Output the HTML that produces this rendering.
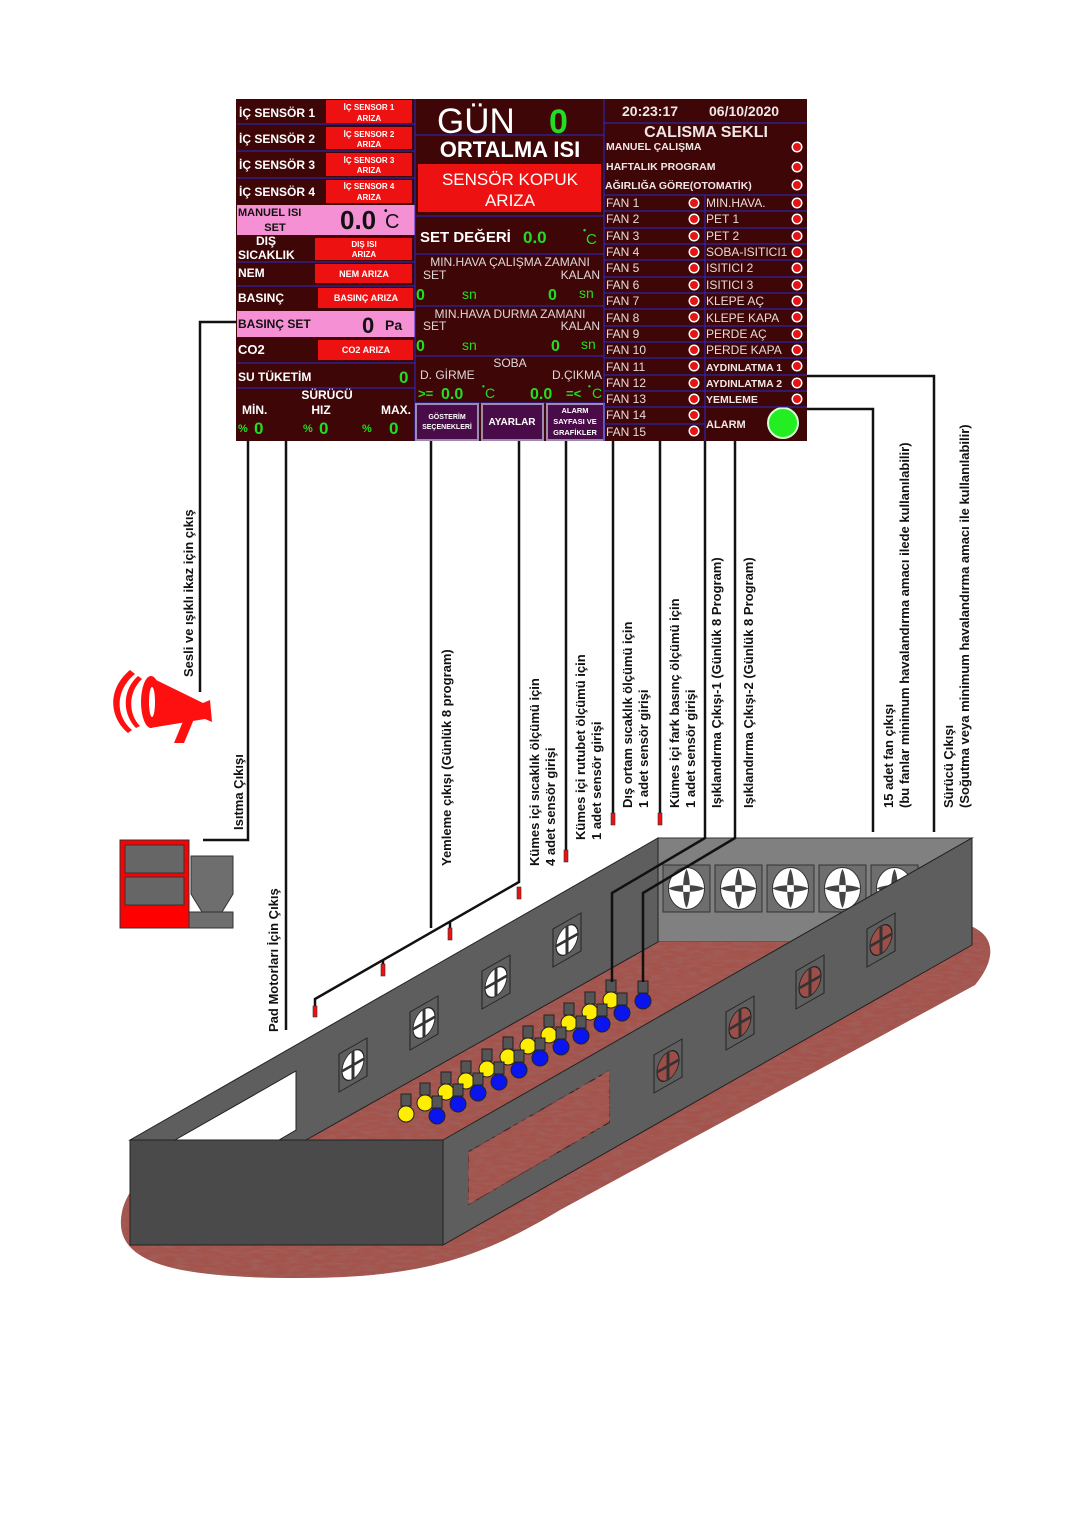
<!DOCTYPE html>
<html><head><meta charset="utf-8"><style>
html,body{margin:0;padding:0;background:#fff;}
svg{display:block;}
text{font-family:"Liberation Sans",Arial,sans-serif;}
.l{font-size:12px;font-weight:bold;fill:#fff;}
.rb{font-size:8px;font-weight:bold;fill:#fff;text-anchor:middle;}
.f{font-size:12px;fill:#e8dada;}
.g{fill:#22dd22;font-weight:bold;}
.w{fill:#e0d6d6;font-size:12px;}
.lab{font-size:13px;font-weight:bold;fill:#111;}
.ln{stroke:#111;stroke-width:2.5;fill:none;}
.sep{stroke:#2a2ad0;stroke-width:1;}
</style></head><body>
<svg width="1072" height="1514" viewBox="0 0 1072 1514" xmlns="http://www.w3.org/2000/svg">
<defs>
<filter id="tex" x="0" y="0" width="100%" height="100%">
<feTurbulence type="fractalNoise" baseFrequency="0.08 0.35" numOctaves="2" seed="3" result="n"/>
<feColorMatrix in="n" type="matrix" values="0 0 0 0 0.35  0 0 0 0 0.12  0 0 0 0 0.11  0 0 0 1.8 -0.6" result="c"/>
<feComposite in="c" in2="SourceGraphic" operator="in" result="d"/>
<feMerge><feMergeNode in="SourceGraphic"/><feMergeNode in="d"/></feMerge>
</filter>
<g id="ind"><circle r="5.5" fill="#fff"/><circle r="4" fill="#e51515"/></g>
<g id="bfan"><rect x="0" y="0" width="47" height="47" fill="#6e6e6e" stroke="#333"/><ellipse cx="23.5" cy="23.5" rx="18" ry="21" fill="#fff" stroke="#333"/><path d="M23.5 4 C19 12 19 35 23.5 43 C28 35 28 12 23.5 4Z M5.5 23.5 C13 19 34 19 41.5 23.5 C34 28 13 28 5.5 23.5Z" fill="#444"/></g>
<g id="wfanL"><g transform="skewY(-29.7)"><rect x="-14" y="-19" width="28" height="38" fill="#5e5e5e" stroke="#222"/><ellipse rx="11" ry="14" fill="#fff" stroke="#222"/><path d="M0 -14V14M-11 0H11" stroke="#333" stroke-width="3"/></g></g>
<g id="wfanR"><g transform="skewY(-29.7)"><rect x="-14" y="-19" width="28" height="38" fill="#5e5e5e" stroke="#222"/><ellipse rx="11" ry="14" fill="#9c4e48" stroke="#222"/><path d="M0 -14V14M-11 0H11" stroke="#333" stroke-width="3"/></g></g>
</defs>

<!-- ===== PANEL ===== -->
<rect x="236" y="99" width="571" height="342" fill="#3e0606"/>
<g>
<text class="l" x="239" y="117">İÇ SENSÖR 1</text>
<rect x="326" y="100" width="86" height="23" fill="#ee1111"/><text class="rb" x="369" y="110">İÇ SENSOR 1</text><text class="rb" x="369" y="121">ARIZA</text>
<line class="sep" x1="237" y1="124" x2="415" y2="124"/>
<text class="l" x="239" y="143">İÇ SENSÖR 2</text>
<rect x="326" y="127" width="86" height="22" fill="#ee1111"/><text class="rb" x="369" y="137">İÇ SENSOR 2</text><text class="rb" x="369" y="147">ARIZA</text>
<line class="sep" x1="237" y1="151" x2="415" y2="151"/>
<text class="l" x="239" y="169">İÇ SENSÖR 3</text>
<rect x="326" y="153" width="86" height="23" fill="#ee1111"/><text class="rb" x="369" y="163">İÇ SENSOR 3</text><text class="rb" x="369" y="173">ARIZA</text>
<line class="sep" x1="237" y1="178" x2="415" y2="178"/>
<text class="l" x="239" y="196">İÇ SENSÖR 4</text>
<rect x="326" y="180" width="86" height="23" fill="#ee1111"/><text class="rb" x="369" y="189">İÇ SENSOR 4</text><text class="rb" x="369" y="200">ARIZA</text>
<rect x="237" y="205" width="178" height="30" fill="#f590d4"/>
<text x="238" y="216" style="font-size:11px;font-weight:bold;fill:#111">MANUEL ISI</text>
<text x="275" y="231" style="font-size:11px;font-weight:bold;fill:#111;text-anchor:middle">SET</text>
<text x="340" y="229" style="font-size:26px;font-weight:bold;fill:#111">0.0</text>
<text x="385" y="228" style="font-size:20px;fill:#111">C</text><text x="384" y="214" style="font-size:10px;font-weight:bold;fill:#111">•</text>
<text class="l" x="266" y="245" text-anchor="middle">DIŞ</text>
<text class="l" x="238" y="259">SICAKLIK</text>
<rect x="315" y="238" width="97" height="22" fill="#ee1111"/><text class="rb" x="364" y="247">DIŞ ISI</text><text class="rb" x="364" y="257">ARIZA</text>
<line class="sep" x1="237" y1="262" x2="415" y2="262"/>
<text class="l" x="238" y="277">NEM</text>
<rect x="315" y="264" width="97" height="19" fill="#ee1111"/><text class="rb" x="364" y="277" style="font-size:9px">NEM ARIZA</text>
<line class="sep" x1="237" y1="286" x2="415" y2="286"/>
<text class="l" x="238" y="302">BASINÇ</text>
<rect x="318" y="288" width="95" height="20" fill="#ee1111"/><text class="rb" x="366" y="301" style="font-size:9px">BASINÇ ARIZA</text>
<rect x="237" y="311" width="178" height="26" fill="#f590d4"/>
<text x="238" y="328" style="font-size:12px;font-weight:bold;fill:#111">BASINÇ SET</text>
<text x="362" y="333" style="font-size:22px;font-weight:bold;fill:#111">0</text>
<text x="385" y="330" style="font-size:14px;font-weight:bold;fill:#111">Pa</text>
<text class="l" x="238" y="354" style="font-size:13px">CO2</text>
<rect x="318" y="340" width="95" height="20" fill="#ee1111"/><text class="rb" x="366" y="353" style="font-size:9px">CO2 ARIZA</text>
<line class="sep" x1="237" y1="363" x2="415" y2="363"/>
<text class="l" x="238" y="381">SU TÜKETİM</text>
<text class="g" x="399" y="383" style="font-size:17px">0</text>
<line class="sep" x1="237" y1="388" x2="415" y2="388"/>
<text class="l" x="327" y="399" text-anchor="middle">SÜRÜCÜ</text>
<text class="l" x="242" y="414">MİN.</text>
<text class="l" x="321" y="414" text-anchor="middle">HIZ</text>
<text class="l" x="381" y="414">MAX.</text>
<text class="g" x="238" y="432" style="font-size:11px">%</text><text class="g" x="254" y="434" style="font-size:17px">0</text>
<text class="g" x="303" y="432" style="font-size:11px">%</text><text class="g" x="319" y="434" style="font-size:17px">0</text>
<text class="g" x="362" y="432" style="font-size:11px">%</text><text class="g" x="389" y="434" style="font-size:17px">0</text>
<line class="sep" x1="415" y1="99" x2="415" y2="441"/>
</g>
<g>
<text x="437" y="133" style="font-size:35px;fill:#fff">GÜN</text>
<text class="g" x="549" y="133" style="font-size:34px">0</text>
<line class="sep" x1="415" y1="135" x2="604" y2="135"/>
<text x="510" y="157" style="font-size:22px;font-weight:bold;fill:#fff;text-anchor:middle">ORTALMA ISI</text>
<rect x="418" y="164" width="183" height="48" fill="#ee1111"/>
<text x="510" y="185" style="font-size:17px;fill:#fff;text-anchor:middle">SENSÖR KOPUK</text>
<text x="510" y="206" style="font-size:17px;fill:#fff;text-anchor:middle">ARIZA</text>
<line class="sep" x1="415" y1="216" x2="604" y2="216"/>
<text x="420" y="242" style="font-size:15px;font-weight:bold;fill:#fff">SET DEĞERİ</text>
<text class="g" x="523" y="243" style="font-size:17px">0.0</text>
<text class="g" x="586" y="244" style="font-size:15px;font-weight:normal">C</text><text class="g" x="583" y="233" style="font-size:9px">•</text>
<line class="sep" x1="415" y1="254" x2="604" y2="254"/>
<text class="w" x="510" y="266" text-anchor="middle">MIN.HAVA ÇALIŞMA ZAMANI</text>
<text class="w" x="423" y="279">SET</text><text class="w" x="600" y="279" text-anchor="end">KALAN</text>
<text class="g" x="416" y="300" style="font-size:16px">0</text><text x="462" y="299" style="font-size:14px;fill:#22dd22">sn</text>
<text class="g" x="548" y="300" style="font-size:16px">0</text><text x="579" y="298" style="font-size:14px;fill:#22dd22">sn</text>
<line class="sep" x1="415" y1="306" x2="604" y2="306"/>
<text class="w" x="510" y="318" text-anchor="middle">MIN.HAVA DURMA ZAMANI</text>
<text class="w" x="423" y="330">SET</text><text class="w" x="600" y="330" text-anchor="end">KALAN</text>
<text class="g" x="416" y="351" style="font-size:16px">0</text><text x="462" y="350" style="font-size:14px;fill:#22dd22">sn</text>
<text class="g" x="551" y="351" style="font-size:16px">0</text><text x="581" y="349" style="font-size:14px;fill:#22dd22">sn</text>
<line class="sep" x1="415" y1="356" x2="604" y2="356"/>
<text class="w" x="510" y="367" text-anchor="middle">SOBA</text>
<text class="w" x="420" y="379">D. GİRME</text><text class="w" x="602" y="379" text-anchor="end">D.ÇIKMA</text>
<text class="g" x="418" y="398" style="font-size:13px">&gt;=</text>
<text class="g" x="441" y="399" style="font-size:16px">0.0</text>
<text x="485" y="398" style="font-size:14px;fill:#22dd22">C</text><text class="g" x="482" y="389" style="font-size:8px">•</text>
<text class="g" x="530" y="399" style="font-size:16px">0.0</text>
<text class="g" x="566" y="398" style="font-size:13px">=&lt;</text>
<text x="592" y="398" style="font-size:14px;fill:#22dd22">C</text><text class="g" x="588" y="389" style="font-size:8px">•</text>
<line class="sep" x1="415" y1="403" x2="604" y2="403"/>
<rect x="416" y="404" width="62" height="36" fill="#4a0c48" stroke="#9c8ab0" stroke-width="2"/>
<text class="rb" x="447" y="419" style="font-size:7px">GÖSTERİM</text><text class="rb" x="447" y="429" style="font-size:7px">SEÇENEKLERİ</text>
<rect x="482" y="404" width="61" height="36" fill="#4a0c48" stroke="#9c8ab0" stroke-width="2"/>
<text class="rb" x="512" y="425" style="font-size:10px">AYARLAR</text>
<rect x="547" y="404" width="57" height="36" fill="#4a0c48" stroke="#9c8ab0" stroke-width="2"/>
<text class="rb" x="575" y="413" style="font-size:7.5px">ALARM</text><text class="rb" x="575" y="424" style="font-size:7.5px">SAYFASI VE</text><text class="rb" x="575" y="435" style="font-size:7.5px">GRAFİKLER</text>
<line class="sep" x1="604" y1="99" x2="604" y2="441"/>
</g>
<g>
<text x="622" y="116" style="font-size:14px;font-weight:bold;fill:#f0e6e6">20:23:17</text>
<text x="709" y="116" style="font-size:14px;font-weight:bold;fill:#f0e6e6">06/10/2020</text>
<line class="sep" x1="604" y1="123" x2="807" y2="123"/>
<text x="706" y="137" style="font-size:16px;font-weight:bold;fill:#f0e6e6;text-anchor:middle">CALISMA SEKLI</text>
<text x="606" y="150" style="font-size:10.5px;font-weight:bold;fill:#f0e6e6">MANUEL ÇALIŞMA</text><use href="#ind" x="797" y="147"/>
<text x="606" y="170" style="font-size:10.5px;font-weight:bold;fill:#f0e6e6">HAFTALIK PROGRAM</text><use href="#ind" x="797" y="167"/>
<text x="605" y="189" style="font-size:10.5px;font-weight:bold;fill:#f0e6e6">AĞIRLIĞA GÖRE(OTOMATİK)</text><use href="#ind" x="797" y="185"/>
<line class="sep" x1="604" y1="195" x2="807" y2="195"/>
<line class="sep" x1="705" y1="195" x2="705" y2="441"/>
<g class="f">
<text x="606" y="207">FAN 1</text><text x="606" y="223">FAN 2</text><text x="606" y="240">FAN 3</text><text x="606" y="256">FAN 4</text><text x="606" y="272">FAN 5</text><text x="606" y="289">FAN 6</text><text x="606" y="305">FAN 7</text><text x="606" y="322">FAN 8</text><text x="606" y="338">FAN 9</text><text x="606" y="354">FAN 10</text><text x="606" y="371">FAN 11</text><text x="606" y="387">FAN 12</text><text x="606" y="403">FAN 13</text><text x="606" y="419">FAN 14</text><text x="606" y="436">FAN 15</text>
<text x="706" y="207">MIN.HAVA.</text><text x="706" y="223">PET 1</text><text x="706" y="240">PET 2</text><text x="706" y="256">SOBA-ISITICI1</text><text x="706" y="272">ISITICI 2</text><text x="706" y="289">ISITICI 3</text><text x="706" y="305">KLEPE AÇ</text><text x="706" y="322">KLEPE KAPA</text><text x="706" y="338">PERDE AÇ</text><text x="706" y="354">PERDE KAPA</text>
</g>
<text x="706" y="371" style="font-size:10.5px;font-weight:bold;fill:#f0e6e6">AYDINLATMA 1</text>
<text x="706" y="387" style="font-size:10.5px;font-weight:bold;fill:#f0e6e6">AYDINLATMA 2</text>
<text x="706" y="403" style="font-size:10.5px;font-weight:bold;fill:#f0e6e6">YEMLEME</text>
<text x="706" y="428" style="font-size:11px;font-weight:bold;fill:#f0e6e6">ALARM</text>
<circle cx="783" cy="423" r="15" fill="#22ee22" stroke="#d8ffd8" stroke-width="2"/>
<g stroke="#2a2ad0" stroke-width="1">
<line x1="604" y1="211" x2="807" y2="211"/><line x1="604" y1="228" x2="807" y2="228"/><line x1="604" y1="244" x2="807" y2="244"/><line x1="604" y1="260" x2="807" y2="260"/><line x1="604" y1="277" x2="807" y2="277"/><line x1="604" y1="293" x2="807" y2="293"/><line x1="604" y1="309" x2="807" y2="309"/><line x1="604" y1="326" x2="807" y2="326"/><line x1="604" y1="342" x2="807" y2="342"/><line x1="604" y1="358" x2="807" y2="358"/><line x1="604" y1="375" x2="807" y2="375"/><line x1="604" y1="391" x2="807" y2="391"/><line x1="604" y1="407" x2="807" y2="407"/><line x1="604" y1="424" x2="705" y2="424"/>
</g>
<use href="#ind" x="694" y="203"/><use href="#ind" x="694" y="219"/><use href="#ind" x="694" y="236"/><use href="#ind" x="694" y="252"/><use href="#ind" x="694" y="268"/><use href="#ind" x="694" y="285"/><use href="#ind" x="694" y="301"/><use href="#ind" x="694" y="317"/><use href="#ind" x="694" y="334"/><use href="#ind" x="694" y="350"/><use href="#ind" x="694" y="366"/><use href="#ind" x="694" y="383"/><use href="#ind" x="694" y="399"/><use href="#ind" x="694" y="415"/><use href="#ind" x="694" y="431"/>
<use href="#ind" x="797" y="203"/><use href="#ind" x="797" y="219"/><use href="#ind" x="797" y="236"/><use href="#ind" x="797" y="252"/><use href="#ind" x="797" y="268"/><use href="#ind" x="797" y="285"/><use href="#ind" x="797" y="301"/><use href="#ind" x="797" y="317"/><use href="#ind" x="797" y="334"/><use href="#ind" x="797" y="350"/><use href="#ind" x="797" y="366"/><use href="#ind" x="797" y="383"/><use href="#ind" x="797" y="399"/>
</g>

<!-- ===== HOUSE ===== -->
<path d="M300,1098 L955,922 C995,928 1000,955 975,985 L560,1210 C480,1258 420,1278 300,1278 C170,1278 112,1262 122,1212 C130,1170 200,1128 300,1098 Z" fill="#a4524c" filter="url(#tex)"/>
<polygon points="658,838 972,838 790,942 658,942" fill="#808080" stroke="#333"/>
<use href="#bfan" x="663" y="865"/><use href="#bfan" x="715" y="865"/><use href="#bfan" x="767" y="865"/><use href="#bfan" x="819" y="865"/><use href="#bfan" x="871" y="865"/>
<polygon points="306,1140 658,942 790,942 443,1140" fill="#a4524c" filter="url(#tex)"/>
<polygon points="130,1140 658,838 658,942 306,1140" fill="#5e5e5e" stroke="#222"/>
<polygon points="175,1140 296,1071 296,1130 279,1140" fill="#fff" stroke="#222"/>
<use href="#wfanL" x="353" y="1065"/><use href="#wfanL" x="424" y="1023"/><use href="#wfanL" x="496" y="982"/><use href="#wfanL" x="567" y="940"/>
<g stroke="#222" stroke-width="1">
<g fill="#555">
<rect x="401" y="1094" width="10" height="12"/><rect x="420" y="1083" width="10" height="12"/><rect x="441" y="1072" width="10" height="12"/><rect x="461" y="1061" width="10" height="12"/><rect x="482" y="1049" width="10" height="12"/><rect x="503" y="1037" width="10" height="12"/><rect x="523" y="1026" width="10" height="12"/><rect x="544" y="1015" width="10" height="12"/><rect x="564" y="1003" width="10" height="12"/><rect x="585" y="992" width="10" height="12"/><rect x="606" y="980" width="10" height="12"/>
</g>
<g fill="#ffee00">
<circle cx="406" cy="1114" r="8"/><circle cx="425" cy="1103" r="8"/><circle cx="446" cy="1092" r="8"/><circle cx="466" cy="1081" r="8"/><circle cx="487" cy="1069" r="8"/><circle cx="508" cy="1057" r="8"/><circle cx="528" cy="1046" r="8"/><circle cx="549" cy="1035" r="8"/><circle cx="569" cy="1023" r="8"/><circle cx="590" cy="1012" r="8"/><circle cx="611" cy="1000" r="8"/>
</g>
<g fill="#555">
<rect x="432" y="1096" width="10" height="12"/><rect x="453" y="1084" width="10" height="12"/><rect x="473" y="1073" width="10" height="12"/><rect x="494" y="1062" width="10" height="12"/><rect x="514" y="1050" width="10" height="12"/><rect x="535" y="1038" width="10" height="12"/><rect x="556" y="1027" width="10" height="12"/><rect x="576" y="1016" width="10" height="12"/><rect x="597" y="1004" width="10" height="12"/><rect x="617" y="993" width="10" height="12"/><rect x="638" y="981" width="10" height="12"/>
</g>
<g fill="#0a14ee">
<circle cx="437" cy="1116" r="8"/><circle cx="458" cy="1104" r="8"/><circle cx="478" cy="1093" r="8"/><circle cx="499" cy="1082" r="8"/><circle cx="519" cy="1070" r="8"/><circle cx="540" cy="1058" r="8"/><circle cx="561" cy="1047" r="8"/><circle cx="581" cy="1036" r="8"/><circle cx="602" cy="1024" r="8"/><circle cx="622" cy="1013" r="8"/><circle cx="643" cy="1001" r="8"/>
</g>
</g>
<polygon points="443,1140 972,838 972,945 443,1245" fill="#5e5e5e" stroke="#222"/>
<polygon points="468,1152 610,1070 610,1122 468,1205" fill="#a4524c" stroke="#222" filter="url(#tex)"/>
<use href="#wfanR" x="668" y="1066"/><use href="#wfanR" x="740" y="1023"/><use href="#wfanR" x="810" y="982"/><use href="#wfanR" x="881" y="940"/>
<rect x="130" y="1140" width="313" height="105" fill="#4a4a4a" stroke="#222"/>

<rect x="120" y="840" width="69" height="88" fill="#ff0000" stroke="#333"/>
<rect x="125" y="845" width="59" height="28" fill="#666" stroke="#333"/>
<rect x="125" y="877" width="59" height="28" fill="#666" stroke="#333"/>
<polygon points="191,856 233,856 233,894 222,912 202,912 191,894" fill="#6e6e6e" stroke="#333"/>
<rect x="189" y="912" width="44" height="16" fill="#6e6e6e" stroke="#333"/>

<g fill="#ff1010">
<path d="M150,677 L203,703 L210,700 L212,722 L205,719 L150,728 Z"/>
<ellipse cx="151" cy="702" rx="10" ry="26"/>
<path d="M184,719 L194,719 L184,743 L174,743 Z"/>
<path d="M135,674 C115,690 115,716 132,730 L128,733 C108,716 108,688 130,670Z"/>
<path d="M142,679 C128,692 128,714 140,726 L136,728 C122,714 122,690 138,676Z"/>
</g>
<ellipse cx="152" cy="702" rx="3" ry="15" fill="#fff"/>

<g class="ln">
<polyline points="237,322 200,322 200,692"/>
<polyline points="248,441 248,840 203,840"/>
<line x1="286" y1="441" x2="286" y2="1030"/>
<line x1="431" y1="441" x2="431" y2="928"/>
<polyline points="519,441 519,882 315,999 315,1010"/>
<line x1="450" y1="921" x2="450" y2="930"/>
<line x1="383" y1="960" x2="383" y2="966"/>
<line x1="566" y1="441" x2="566" y2="852"/>
<line x1="613" y1="441" x2="613" y2="815"/>
<line x1="660" y1="441" x2="660" y2="815"/>
<polyline points="705,441 705,838 612,893 612,982"/>
<polyline points="735,441 735,838 643,893 643,982"/>
<polyline points="807,409 873,409 873,832"/>
<polyline points="807,376 934,376 934,832"/>
</g>
<g fill="#ee1111" stroke="#333" stroke-width="0.6">
<rect x="313" y="1006" width="4" height="11"/><rect x="381" y="964" width="4" height="12"/><rect x="448" y="928" width="4" height="12"/><rect x="517" y="887" width="4" height="12"/>
<rect x="564" y="850" width="4" height="12"/><rect x="611" y="813" width="4" height="12"/><rect x="658" y="813" width="4" height="12"/>
</g>

<g class="lab">
<text transform="translate(193,677) rotate(-90)">Sesli ve ışıklı ikaz için çıkış</text>
<text transform="translate(243,830) rotate(-90)">Isıtma Çıkışı</text>
<text transform="translate(278,1032) rotate(-90)">Pad Motorları İçin Çıkış</text>
<text transform="translate(451,866) rotate(-90)">Yemleme çıkışı (Günlük 8 program)</text>
<text transform="translate(539,866) rotate(-90)">Kümes içi sıcaklık ölçümü için</text>
<text transform="translate(555,866) rotate(-90)">4 adet sensör girişi</text>
<text transform="translate(585,840) rotate(-90)">Kümes içi rutubet ölçümü için</text>
<text transform="translate(601,840) rotate(-90)">1 adet sensör girişi</text>
<text transform="translate(632,808) rotate(-90)">Dış ortam sıcaklık ölçümü için</text>
<text transform="translate(648,808) rotate(-90)">1 adet sensör girişi</text>
<text transform="translate(679,808) rotate(-90)">Kümes içi fark basınç ölçümü için</text>
<text transform="translate(695,808) rotate(-90)">1 adet sensör girişi</text>
<text transform="translate(721,808) rotate(-90)">Işıklandırma Çıkışı-1 (Günlük 8 Program)</text>
<text transform="translate(753,808) rotate(-90)">Işıklandırma Çıkışı-2 (Günlük 8 Program)</text>
<text transform="translate(893,808) rotate(-90)">15 adet fan çıkışı</text>
<text transform="translate(909,808) rotate(-90)">(bu fanlar minimum havalandırma amacı ilede kullanılabilir)</text>
<text transform="translate(953,808) rotate(-90)">Sürücü Çıkışı</text>
<text transform="translate(969,808) rotate(-90)">(Soğutma veya minimum havalandırma amacı ile kullanılabilir)</text>
</g>
</svg>
</body></html>
